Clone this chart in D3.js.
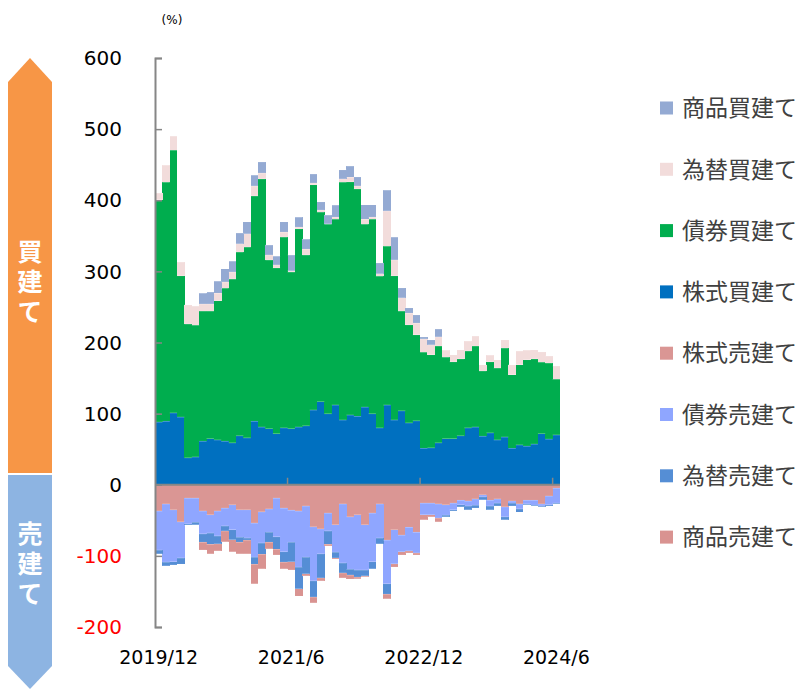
<!DOCTYPE html>
<html>
<head>
<meta charset="utf-8">
<script src="https://cdn.jsdelivr.net/npm/d3@7"></script>
<style>
  body { margin: 0; background: #fff; }
  svg { display: block; }
</style>
</head>
<body>
<svg id="chart" width="796" height="689"></svg>
<script>
// months, 2019/12 .. 2024/6
const months = [
  "2019/12",
  "2020/1","2020/2","2020/3","2020/4","2020/5","2020/6","2020/7","2020/8","2020/9","2020/10","2020/11","2020/12",
  "2021/1","2021/2","2021/3","2021/4","2021/5","2021/6","2021/7","2021/8","2021/9","2021/10","2021/11","2021/12",
  "2022/1","2022/2","2022/3","2022/4","2022/5","2022/6","2022/7","2022/8","2022/9","2022/10","2022/11","2022/12",
  "2023/1","2023/2","2023/3","2023/4","2023/5","2023/6","2023/7","2023/8","2023/9","2023/10","2023/11","2023/12",
  "2024/1","2024/2","2024/3","2024/4","2024/5","2024/6"
];
const xTickLabels = ["2019/12", "2021/6", "2022/12", "2024/6"];
const yTicks = [-200, -100, 0, 100, 200, 300, 400, 500, 600];

// buy side (%)
const stockBuy = [88,89,101,95,38,39,61,65,63,61,59,69,66,89,81,79,72,80,79,81,83,105,117,100,112,91,98,96,109,100,80,112,91,104,87,90,51,52,59,65,65,69,80,81,68,73,63,67,51,56,54,57,72,64,70];
const bondBuy = [313,336,369,199,188,185,183,179,196,215,230,258,268,317,349,237,233,268,220,279,240,317,266,266,261,334,328,320,257,273,213,223,203,140,138,121,135,131,136,114,108,108,108,114,92,100,101,125,104,113,122,120,100,107,78];
const fxBuy = [9,24,20,19,27,27,10,10,10,9,10,12,19,14,8,7,4,7,2,2,8,2,3,1,3,5,6,4,7,3,4,50,22,19,16,16,19,14,13,10,10,13,14,14,9,9,12,12,14,19,13,13,15,10,19];
const commBuy = [0,0,0,0,0,0,15,17,17,19,15,15,17,15,16,14,12,15,22,14,14,13,12,12,17,13,16,13,21,18,15,29,32,14,8,12,3,7,11,0,0,0,0,0,0,0,0,0,0,0,0,0,0,0,0];

// sell side (%)
const stockSell = [-37,-27,-35,-52,-19,-19,-37,-42,-37,-33,-28,-35,-35,-54,-38,-34,-19,-33,-36,-37,-30,-59,-62,-40,-56,-27,-45,-42,-56,-40,-27,-78,-63,-71,-60,-67,-26,-26,-27,-28,-26,-22,-23,-20,-14,-22,-20,-31,-23,-27,-22,-22,-27,-16,-5];
const bondSell = [-55,-82,-73,-51,-36,-34,-32,-26,-35,-25,-35,-39,-40,-48,-44,-33,-54,-61,-45,-79,-72,-76,-35,-25,-39,-83,-74,-78,-64,-68,-48,-61,-48,-23,-33,-29,-16,-16,-20,-15,-9,-6,-7,-9,-3,-8,-6,-14,-3,-7,-5,-7,-3,-12,-21];
const fxSell = [-5,-5,-5,-9,-2,-3,-12,-16,-11,-7,-14,-7,-3,-10,-16,-14,-18,-15,-27,-30,-23,-23,-34,-19,-8,-14,-8,-10,-8,-10,-8,-15,0,0,0,0,0,0,0,-2,-2,-3,-5,-4,-4,-5,-4,-4,-4,-5,-1,-1,-1,-2,-1];
const commSell = [0,0,0,0,0,0,-11,-13,-10,-15,-17,-16,-19,-27,-20,-9,-8,-9,-12,-11,-3,-8,-4,-2,-2,-7,-6,-2,-1,0,0,-6,-5,-5,-3,-3,-7,-3,-5,0,0,0,0,0,0,0,0,0,0,0,0,0,0,0,0];

const seriesKeys = ["stockBuy","bondBuy","fxBuy","commBuy","stockSell","bondSell","fxSell","commSell"];
const seriesColors = {
  stockBuy: "#0070C0", bondBuy: "#00AD4E", fxBuy: "#F2DCDB", commBuy: "#94AAD3",
  stockSell: "#DA9694", bondSell: "#8FA6FF", fxSell: "#558ED5", commSell: "#D99391"
};
// legend, top to bottom
const legendNames = ["商品買建て","為替買建て","債券買建て","株式買建て","株式売建て","債券売建て","為替売建て","商品売建て"];
const legendKeys = ["commBuy","fxBuy","bondBuy","stockBuy","stockSell","bondSell","fxSell","commSell"];

const table = months.map((m, i) => ({
  month: m,
  stockBuy: stockBuy[i], bondBuy: bondBuy[i], fxBuy: fxBuy[i], commBuy: commBuy[i],
  stockSell: stockSell[i], bondSell: bondSell[i], fxSell: fxSell[i], commSell: commSell[i]
}));

const svg = d3.select("#chart");

const x = d3.scaleBand().domain(months).range([155, 560]).padding(0);
const y = d3.scaleLinear().domain([-200, 600]).range([627, 58]);

const stacked = d3.stack().keys(seriesKeys).offset(d3.stackOffsetDiverging)(table);

svg.append("g")
  .attr("shape-rendering", "crispEdges")
  .selectAll("g")
  .data(stacked)
  .enter().append("g")
  .attr("fill", d => seriesColors[d.key])
  .selectAll("rect")
  .data(d => d)
  .enter().append("rect")
  .attr("x", d => x(d.data.month))
  .attr("width", x.bandwidth() + 0.3)
  .attr("y", d => y(Math.max(d[0], d[1])))
  .attr("height", d => Math.abs(y(d[0]) - y(d[1])));

// thin light edges like the original's outlines
svg.append("g").selectAll("g")
  .data(stacked)
  .enter().append("g")
  .selectAll("line")
  .data(d => d.filter(v => v[1] !== v[0]))
  .enter().append("line")
  .attr("x1", d => x(d.data.month))
  .attr("x2", d => x(d.data.month) + x.bandwidth())
  .attr("y1", d => y(d[1] > 0 ? d[1] : d[0]))
  .attr("y2", d => y(d[1] > 0 ? d[1] : d[0]))
  .attr("stroke", "#ffffff")
  .attr("stroke-opacity", 0.35)
  .attr("stroke-width", 0.8);

// y axis
const yAxis = d3.axisRight(y).tickValues(yTicks).tickSize(7).tickFormat("");
const gy = svg.append("g").attr("transform", "translate(155,0)").call(yAxis);
gy.select(".domain").attr("stroke", "#868686").attr("stroke-width", 2);
gy.selectAll(".tick line").attr("stroke", "#868686").attr("stroke-width", 1.5);

svg.append("g").selectAll("text")
  .data(yTicks)
  .enter().append("text")
  .attr("x", 122)
  .attr("y", d => y(d))
  .attr("dy", "0.36em")
  .attr("text-anchor", "end")
  .attr("font-family", "DejaVu Sans, Verdana, sans-serif")
  .attr("font-size", 20)
  .attr("fill", d => d < 0 ? "#FF0000" : "#000000")
  .text(d => d);

// x axis on zero line, ticks pointing up between categories
const gx = svg.append("g");
gx.append("line")
  .attr("x1", 155).attr("x2", 560)
  .attr("y1", y(0)).attr("y2", y(0))
  .attr("stroke", "#868686").attr("stroke-width", 2);
gx.selectAll("line.tk")
  .data(xTickLabels.slice(1))
  .enter().append("line")
  .attr("class", "tk")
  .attr("x1", d => x(d)).attr("x2", d => x(d))
  .attr("y1", y(0)).attr("y2", y(0) - 7)
  .attr("stroke", "#868686").attr("stroke-width", 1.5);

svg.append("g").selectAll("text")
  .data(xTickLabels)
  .enter().append("text")
  .attr("x", d => x(d) + x.bandwidth() / 2)
  .attr("y", 664)
  .attr("text-anchor", "middle")
  .attr("font-family", "DejaVu Sans, Verdana, sans-serif")
  .attr("font-size", 19)
  .attr("fill", "#000")
  .text(d => d);

svg.append("text")
  .attr("x", 172).attr("y", 24)
  .attr("text-anchor", "middle")
  .attr("font-family", "DejaVu Sans, Verdana, sans-serif")
  .attr("font-size", 12)
  .text("(%)");

// side arrows
svg.append("path")
  .attr("d", "M8,82 L30,58 L52,82 L52,473 L8,473 Z")
  .attr("fill", "#F79646");
svg.append("path")
  .attr("d", "M8,475 L52,475 L52,666 L30,689 L8,666 Z")
  .attr("fill", "#8DB4E2");

const sideLabels = [
  { text: "買建て", cy: 284 },
  { text: "売建て", cy: 566 }
];
svg.append("g").selectAll("text")
  .data(sideLabels)
  .enter().append("text")
  .attr("x", 30).attr("y", d => d.cy)
  .attr("writing-mode", "vertical-rl")
  .attr("text-anchor", "middle")
  .attr("letter-spacing", 5)
  .attr("font-family", "Noto Sans CJK JP, sans-serif")
  .attr("font-weight", "bold")
  .attr("font-size", 25)
  .attr("fill", "#fff")
  .text(d => d.text);

// legend
const legend = svg.append("g").selectAll("g")
  .data(legendKeys)
  .enter().append("g")
  .attr("transform", (d, i) => `translate(660, ${108 + i * 61.3})`);
legend.append("rect")
  .attr("x", 0).attr("y", -6.5)
  .attr("width", 13).attr("height", 13)
  .attr("fill", d => seriesColors[d]);
legend.append("text")
  .attr("x", 22).attr("y", 0)
  .attr("dy", "0.36em")
  .attr("font-family", "Noto Sans CJK JP, sans-serif")
  .attr("font-size", 23)
  .attr("fill", "#404040")
  .text((d, i) => legendNames[i]);
</script>
</body>
</html>
